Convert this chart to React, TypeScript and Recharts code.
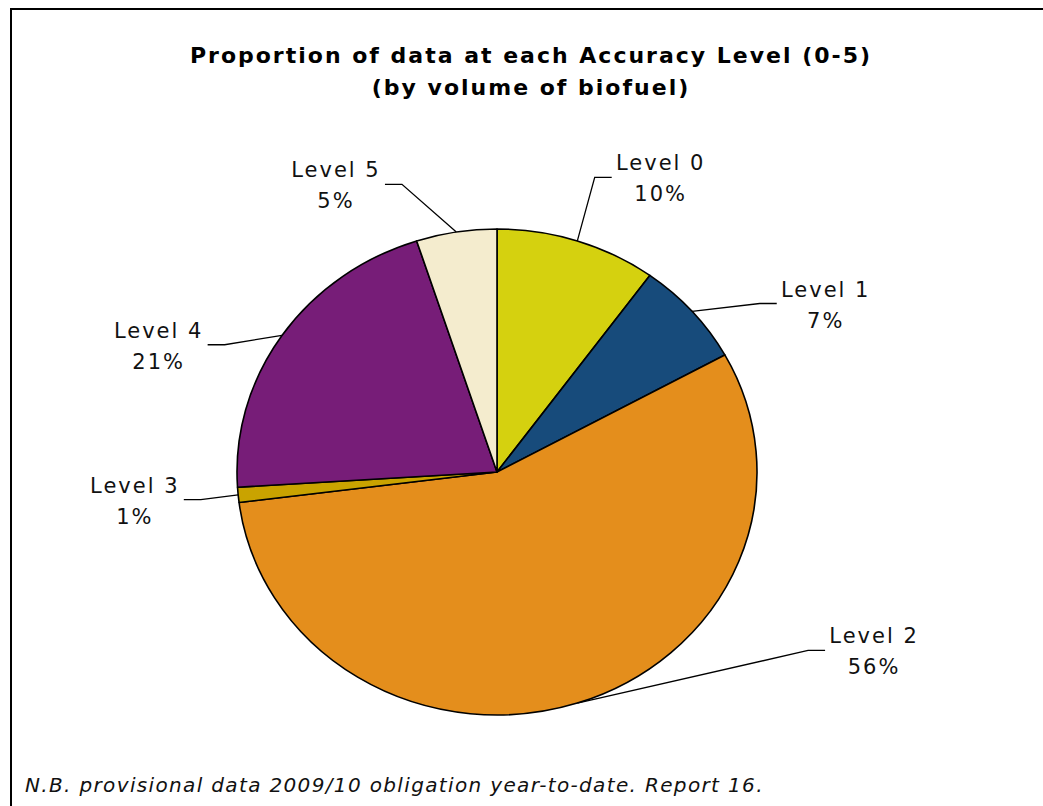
import React from "react";
import { PieChart, Pie, Cell } from "recharts";

const levels = ["Level 0", "Level 1", "Level 2", "Level 3", "Level 4", "Level 5"];
const shares = [10, 7, 56, 1, 21, 5];
const colours = ["#D5D10F", "#174B7B", "#E48E1C", "#C9A300", "#771D78", "#F4ECCE"];

const title1 = "Proportion of data at each Accuracy Level (0-5)";
const title2 = "(by volume of biofuel)";
const footnote = "N.B. provisional data 2009/10 obligation year-to-date. Report 16.";

// label placement tweaks (degrees clockwise, radius factor) to mimic the original layout
const labelShift = [2, 8.6, -41.8, 0, -9, -11];
const labelDist = [1.29, 1.28, 1.46, 1.21, 1.23, 1.26];

const data = levels.map((name, i) => ({ name, value: shares[i] }));

const RAD = Math.PI / 180;
const SQUASH = 243 / 260;
const FONT = "'DejaVu Sans', Verdana, sans-serif";

const EllipseSector = (props: any) => {
  const { cx, cy, outerRadius, startAngle, endAngle, fill } = props;
  const rx = outerRadius;
  const ry = outerRadius * SQUASH;
  const pt = (a: number) => [cx + rx * Math.cos(-a * RAD), cy + ry * Math.sin(-a * RAD)];
  const [x1, y1] = pt(startAngle);
  const [x2, y2] = pt(endAngle);
  const large = Math.abs(startAngle - endAngle) > 180 ? 1 : 0;
  const sweep = startAngle > endAngle ? 1 : 0;
  return (
    <path
      d={`M${cx},${cy} L${x1},${y1} A${rx},${ry} 0 ${large} ${sweep} ${x2},${y2} Z`}
      fill={fill}
      stroke="#000"
      strokeWidth={1.6}
      strokeLinejoin="round"
    />
  );
};

const renderLabel = (props: any) => {
  const { cx, cy, midAngle, outerRadius, index, name, percent } = props;
  const rx = outerRadius;
  const ry = outerRadius * SQUASH;
  const a = midAngle - labelShift[index];
  const k = labelDist[index];
  const sx = cx + rx * Math.cos(-midAngle * RAD);
  const sy = cy + ry * Math.sin(-midAngle * RAD);
  const ex = cx + k * rx * Math.cos(-a * RAD);
  const ey = cy + k * ry * Math.sin(-a * RAD);
  const right = ex > cx;
  const bx = right ? ex - 17 : ex + 17;
  const tx = right ? ex + 49 : ex - 49;
  return (
    <g key={`lab-${index}`}>
      <polyline points={`${sx},${sy} ${bx},${ey} ${ex},${ey}`} fill="none" stroke="#000" strokeWidth={1.3} />
      <text x={tx} y={ey - 7} textAnchor="middle" fontFamily={FONT} fontSize={21} letterSpacing={2} fill="#111">
        {name}
      </text>
      <text x={tx} y={ey + 24} textAnchor="middle" fontFamily={FONT} fontSize={21} letterSpacing={2} fill="#111">
        {`${Math.round(percent * 100)}%`}
      </text>
    </g>
  );
};

export default function App() {
  return (
    <div style={{ position: "absolute", left: 0, top: 0, width: 1043, height: 806, background: "#fff" }}>
      <div
        style={{
          position: "absolute",
          left: 10,
          top: 8,
          width: 1040,
          height: 805,
          borderLeft: "2px solid #000",
          borderTop: "2px solid #000",
        }}
      />
      <div style={{ position: "absolute", left: 0, top: 0 }}>
        <PieChart width={1043} height={806} margin={{ top: 0, right: 0, bottom: 0, left: 0 }}>
          <text x={531} y={63} textAnchor="middle" fontFamily={FONT} fontWeight="bold" fontSize={22} letterSpacing={2} fill="#000">
            {title1}
          </text>
          <text x={531} y={95} textAnchor="middle" fontFamily={FONT} fontWeight="bold" fontSize={22} letterSpacing={2} fill="#000">
            {title2}
          </text>
          <text x={25} y={792} fontFamily={FONT} fontStyle="italic" fontSize={20} letterSpacing={1.35} fill="#111">
            {footnote}
          </text>
          <Pie
            data={data}
            dataKey="value"
            nameKey="name"
            cx={497}
            cy={472}
            outerRadius={260}
            startAngle={90}
            endAngle={-270}
            shape={EllipseSector}
            label={renderLabel}
            labelLine={false}
            isAnimationActive={false}
          >
            {data.map((d, i) => (
              <Cell key={d.name} fill={colours[i]} />
            ))}
          </Pie>
        </PieChart>
      </div>
    </div>
  );
}
